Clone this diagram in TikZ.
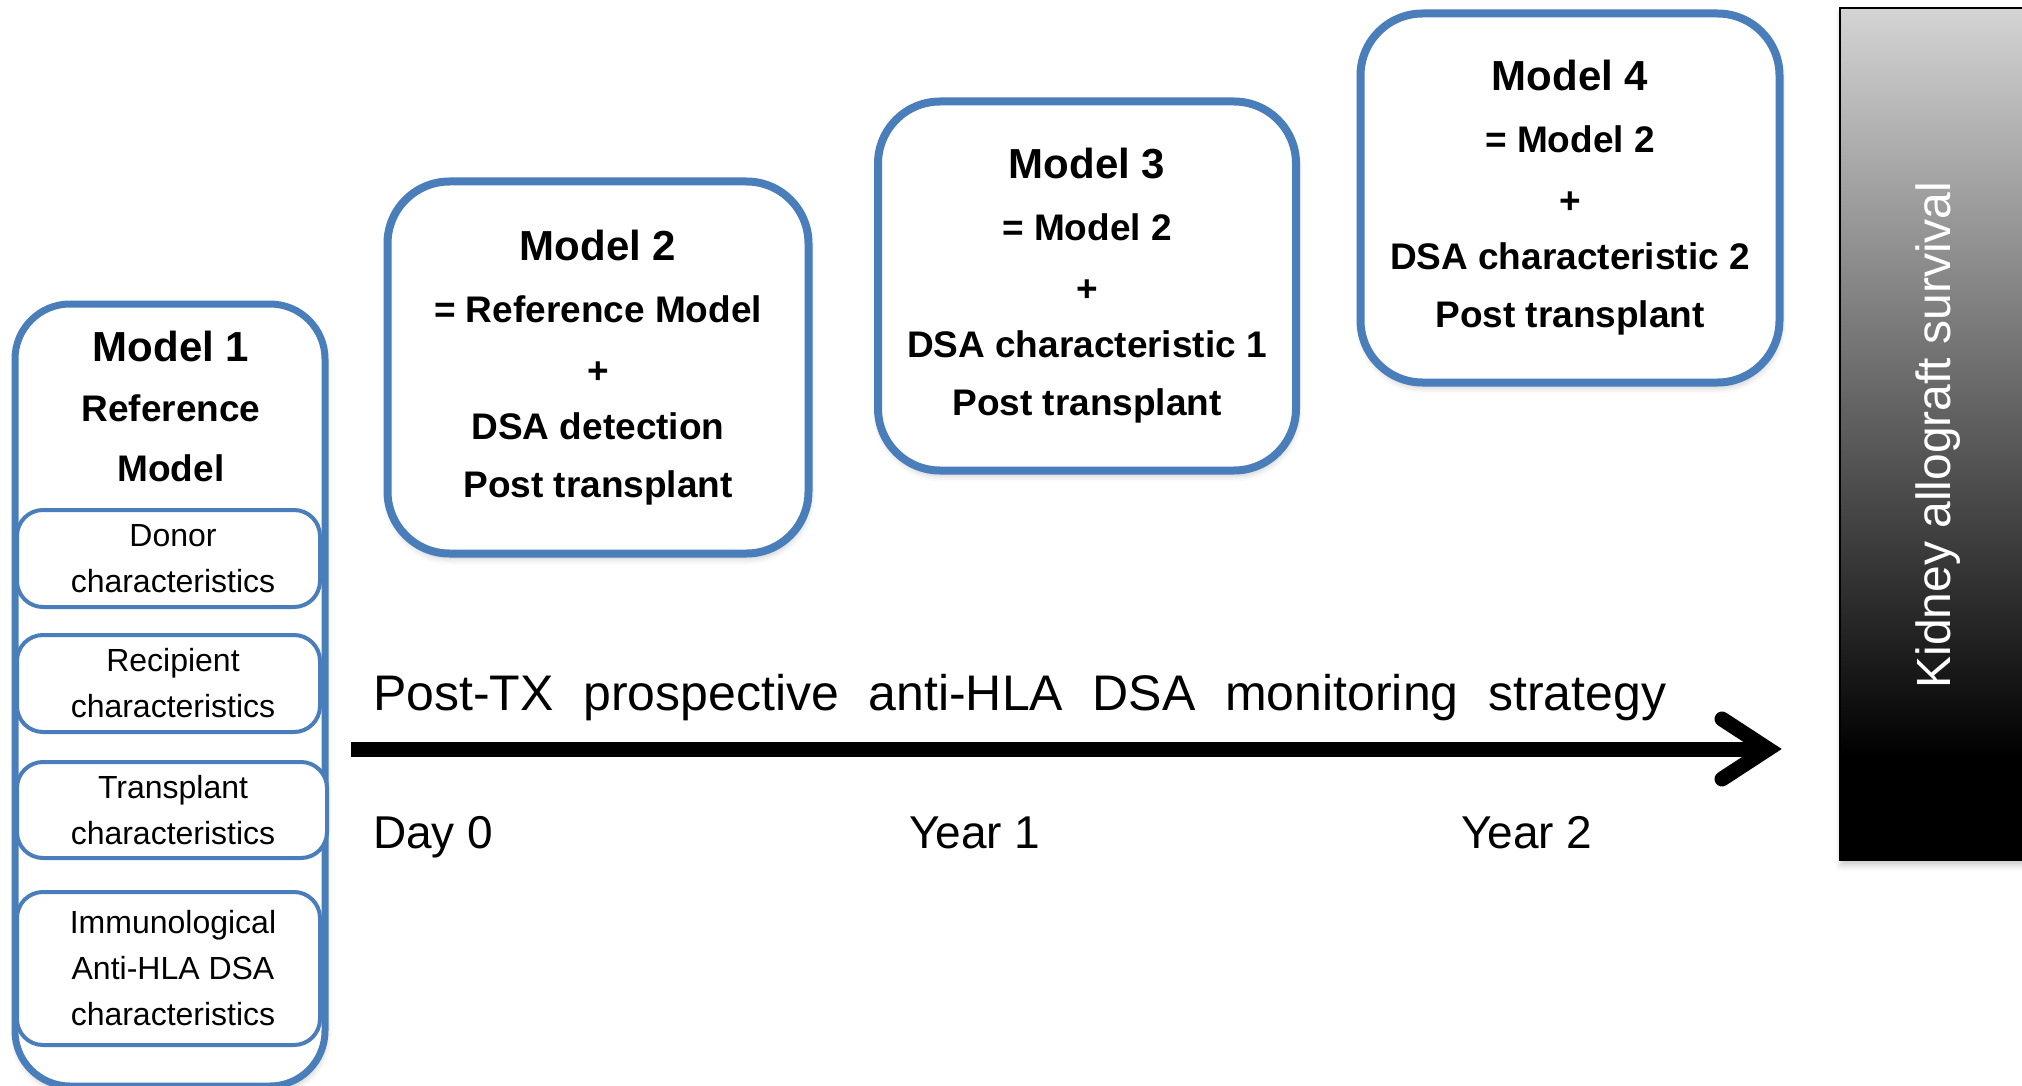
\documentclass[tikz,border=0pt]{standalone}
\usepackage{fontspec}
\setmainfont{Liberation Sans}
\usetikzlibrary{shadows.blur}

\definecolor{frameblue}{HTML}{4A7EBB}
\definecolor{bartop}{HTML}{D4D4D4}

% vertical grey-to-black fill of the survival bar (bottom to top)
\pgfdeclareverticalshading{survivalshade}{100bp}{color(0bp)=(black); color(31bp)=(black); color(75bp)=(bartop); color(100bp)=(bartop)}

\newcommand\modeltitle[1]{{\fontsize{42}{60}\selectfont #1}}
% item lines sit a little right of the box centre
\newcommand\itemline[1]{\hspace*{9pt}#1}

\begin{document}
\begin{tikzpicture}[x=1pt,y=-1pt,
  softshadow/.style={blur shadow={shadow xshift=1pt,shadow yshift=-5pt,shadow blur radius=6pt,shadow opacity=22}},
  modelbox/.style={draw=frameblue,line width=8pt,fill=white,rounded corners=62pt,inner sep=0pt,
    align=center,font=\bfseries\fontsize{37}{60}\selectfont,softshadow},
  groupbox/.style={draw=frameblue,line width=7pt,fill=white,rounded corners=55pt,inner sep=0pt,softshadow},
  itembox/.style={draw=frameblue,line width=4pt,fill=white,rounded corners=26pt,inner sep=0pt,
    align=center,font=\fontsize{32}{46}\selectfont},
  timelabel/.style={anchor=base west,inner sep=0pt,font=\fontsize{46}{55}\selectfont},
  timeline/.style={line width=15pt,black}
]
\useasboundingbox (0,0) rectangle (2022,1086);

% ---- Model 1: reference model and its covariate groups
\node[groupbox,minimum width=310pt,minimum height=782pt] (m1) at (170,695) {};
\node[align=center,inner sep=0pt,font=\bfseries\fontsize{37}{60}\selectfont] (m1title) at (171,406)
  {\modeltitle{Model 1}\\Reference\\Model};
\node[itembox,minimum width=303pt,minimum height=97pt] (donor) at (168.5,558.5)
  {\itemline{Donor}\\\itemline{characteristics}};
\node[itembox,minimum width=303pt,minimum height=97pt] (recipient) at (168.5,683.5)
  {\itemline{Recipient}\\\itemline{characteristics}};
\node[itembox,minimum width=310pt,minimum height=96pt] (transplant) at (172,810)
  {\hspace*{2pt}Transplant\\\hspace*{2pt}characteristics};
\node[itembox,minimum width=303pt,minimum height=153pt] (immuno) at (168.5,968.5)
  {\itemline{Immunological}\\\itemline{Anti-HLA DSA}\\\itemline{characteristics}};

% ---- Models 2 to 4
\node[modelbox,minimum width=421pt,minimum height=372pt] (m2) at (598,367.5)
  {\modeltitle{Model 2}\\[2pt] = Reference Model\\[1pt] +\\[-4pt] DSA detection\\[-2pt] Post transplant};
\node[modelbox,minimum width=418pt,minimum height=369pt] (m3) at (1087,286)
  {\modeltitle{Model 3}\\[2pt] = Model 2\\[1pt] +\\[-4pt] DSA characteristic 1\\[-2pt] Post transplant};
\node[modelbox,minimum width=419pt,minimum height=369pt] (m4) at (1570,198)
  {\modeltitle{Model 4}\\[2pt] = Model 2\\[1pt] +\\[-4pt] DSA characteristic 2\\[-2pt] Post transplant};

% ---- monitoring timeline
\node[anchor=base west,inner sep=0pt,font=\fontsize{50}{60}\selectfont] (strategy) at (373,710)
  {\makebox[1293pt][s]{Post-TX prospective anti-HLA DSA monitoring strategy}};
\coordinate (tstart) at (351,749);
\coordinate (tend) at (1762,749);
\coordinate (tip) at (1768,749);
\coordinate (armup) at (1722,719);
\coordinate (armdown) at (1722,779);
\draw[timeline] (tstart) -- (tend);
\draw[timeline,line cap=round,line join=miter] (armup) -- (tip) -- (armdown);

\node[timelabel] (day0) at (373,848) {Day 0};
\node[timelabel] (year1) at (909,848) {Year 1};
\node[timelabel] (year2) at (1461,848) {Year 2};

% ---- outcome bar
\node[draw=black,line width=1.5pt,shading=survivalshade,minimum width=190pt,minimum height=852pt,
  inner sep=0pt,softshadow] (bar) at (1935,434) {};
\node[rotate=90,text=white,inner sep=0pt,font=\fontsize{48}{55}\selectfont] (survival) at (1938,435)
  {Kidney allograft survival};
\end{tikzpicture}
\end{document}
